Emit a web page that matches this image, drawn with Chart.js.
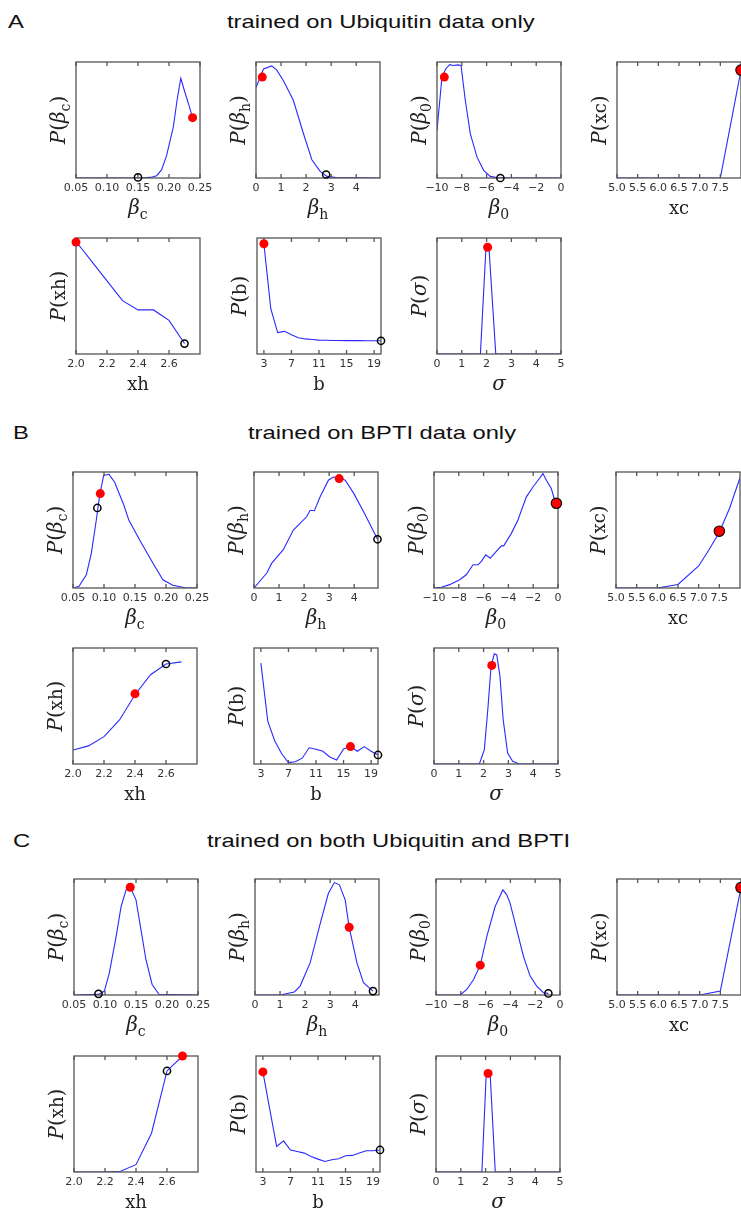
<!DOCTYPE html>
<html>
<head>
<meta charset="utf-8">
<script src="https://cdn.jsdelivr.net/npm/chart.js@4.4.0/dist/chart.umd.min.js"></script>
<style>
  html, body { margin: 0; padding: 0; background: #fff; overflow: hidden; }
  body { position: relative; width: 741px; height: 1209px; }
  .hd { position: absolute; font: 19px "Liberation Sans", Arial, sans-serif; line-height: 19px;
        color: #111; white-space: nowrap; transform-origin: 0 0; transform: scaleX(1.25); }
  canvas { position: absolute; }
</style>
</head>
<body>
<div class="hd" style="left:8px;top:12px">A</div>
<div class="hd" style="left:227px;top:12px">trained on Ubiquitin data only</div>
<div class="hd" style="left:13px;top:423px">B</div>
<div class="hd" style="left:248px;top:423px">trained on BPTI data only</div>
<div class="hd" style="left:13px;top:831px">C</div>
<div class="hd" style="left:207px;top:831px">trained on both Ubiquitin and BPTI</div>

<script>
// parameters, in plot order: beta_c, beta_h, beta_0, xc, xh, b, sigma
const paramSymbols = ['β', 'β', 'β', 'xc', 'xh', 'b', 'σ'];
const paramSubs = ['c', 'h', '0', '', '', '', ''];
const paramMono = [false, false, false, true, true, true, false];
const xMins = [0.05, 0, -10, 5.0, 2.0, 2, 0];
const xMaxs = [0.25, 4.95, 0, 8.0, 2.8, 20, 5];
const tickDecimals = [2, 0, 0, 1, 1, 0, 0];

const bcTicks = [0.05, 0.10, 0.15, 0.20, 0.25];
const bhTicks = [0, 1, 2, 3, 4];
const b0Ticks = [-10, -8, -6, -4, -2, 0];
const xcTicks = [5.0, 5.5, 6.0, 6.5, 7.0, 7.5];
const xhTicks = [2.0, 2.2, 2.4, 2.6];
const bTicks = [3, 7, 11, 15, 19];
const sigTicks = [0, 1, 2, 3, 4, 5];
const allTicks = [bcTicks, bhTicks, b0Ticks, xcTicks, xhTicks, bTicks, sigTicks];

const xhGrid = [2.0, 2.1, 2.2, 2.3, 2.4, 2.5, 2.6, 2.7];
const bGrid = [3, 4, 5, 6, 7, 8, 9, 10, 11, 12, 13, 14, 15, 16, 17, 18, 19, 20];
const xcGrid = [5.0, 5.5, 6.0, 6.5, 7.0, 7.5, 8.0];

// ---- A: trained on Ubiquitin data only ----
const aBcX = [0.05, 0.10, 0.15, 0.17, 0.18, 0.188, 0.196, 0.207, 0.213, 0.219, 0.225, 0.232, 0.238];
const aBcY = [0, 0, 0, 0.005, 0.02, 0.07, 0.19, 0.44, 0.67, 0.86, 0.75, 0.63, 0.52];
const aBhX = [0, 0.3, 0.63, 0.83, 1.09, 1.49, 1.89, 2.23, 2.56, 2.83, 3.2, 4.95];
const aBhY = [0.78, 0.94, 0.966, 0.93, 0.84, 0.67, 0.386, 0.157, 0.057, 0.014, 0.003, 0];
const aB0X = [-10, -9.6, -9.3, -8.98, -8.7, -8.3, -8.06, -7.72, -7.31, -6.77, -6.24, -5.7, -5.2, -4, -2, 0];
const aB0Y = [0.41, 0.87, 0.94, 0.977, 0.97, 0.975, 0.97, 0.67, 0.38, 0.18, 0.066, 0.014, 0.003, 0, 0, 0];
const aXcY = [0, 0, 0, 0, 0, 0, 0.93];
const aXhY = [0.97, 0.80, 0.63, 0.46, 0.38, 0.38, 0.29, 0.09];
const aBY = [0.95, 0.39, 0.185, 0.195, 0.165, 0.14, 0.13, 0.125, 0.12, 0.118, 0.117, 0.116, 0.115, 0.115, 0.115, 0.114, 0.114, 0.114];
const aSigX = [0, 1.6, 1.75, 1.97, 2.04, 2.1, 2.37, 2.5, 5];
const aSigY = [0, 0, 0, 0.9, 0.94, 0.9, 0, 0, 0];
const aRed = [[0.238, 0.52], [0.25, 0.87], [-9.41, 0.87], [8.0, 0.93], [2.0, 0.965], [3, 0.95], [2.04, 0.92]];
const aOpen = [[0.15, 0.005], [2.8, 0.03], [-4.89, 0], null, [2.7, 0.09], [20, 0.114], null];

// ---- B: trained on BPTI data only ----
const bBcX = [0.05, 0.0597, 0.0715, 0.0796, 0.0876, 0.093, 0.0995, 0.108, 0.117, 0.131, 0.140, 0.1575, 0.179, 0.195, 0.211, 0.233, 0.25];
const bBcY = [0, 0.014, 0.114, 0.3, 0.586, 0.8, 0.97, 0.98, 0.914, 0.729, 0.586, 0.414, 0.214, 0.071, 0.023, 0, 0];
const bBhX = [0, 0.51, 0.71, 1.17, 1.57, 2.1, 2.24, 2.41, 2.64, 2.97, 3.17, 3.4, 3.64, 3.97, 4.37, 4.7, 4.93];
const bBhY = [0, 0.129, 0.214, 0.33, 0.5, 0.614, 0.67, 0.666, 0.786, 0.929, 0.957, 0.95, 0.93, 0.82, 0.66, 0.52, 0.42];
const bB0X = [-10, -9.41, -8.74, -7.93, -7.4, -6.85, -6.45, -6.18, -5.83, -5.46, -5.1, -4.57, -4.38, -3.76, -3.23, -2.55, -2.02, -1.61, -1.21, -0.94, -0.54, -0.27, -0.13];
const bB0Y = [0, 0.006, 0.029, 0.071, 0.114, 0.2, 0.2, 0.23, 0.286, 0.257, 0.3, 0.363, 0.363, 0.471, 0.586, 0.786, 0.871, 0.929, 0.986, 0.929, 0.857, 0.757, 0.73];
const bXcX = [5.0, 5.5, 6.0, 6.5, 7.0, 7.25, 7.5, 7.75, 8.0];
const bXcY = [0, 0, 0, 0.03, 0.19, 0.33, 0.48, 0.69, 0.95];
const bXhY = [0.121, 0.156, 0.236, 0.38, 0.597, 0.77, 0.862, 0.88];
const bBY = [0.87, 0.37, 0.2, 0.09, 0.012, 0.02, 0.05, 0.14, 0.127, 0.11, 0.06, 0.035, 0.13, 0.15, 0.11, 0.15, 0.11, 0.078];
const bSigX = [0, 1.83, 2.03, 2.17, 2.3, 2.43, 2.53, 2.66, 2.79, 2.97, 3.17, 3.44, 5];
const bSigY = [0, 0, 0.124, 0.47, 0.84, 0.95, 0.94, 0.756, 0.38, 0.095, 0.023, 0, 0];
const bRed = [[0.094, 0.814], [3.4, 0.943], [-0.13, 0.73], [7.5, 0.49], [2.4, 0.605], [16, 0.15], [2.33, 0.85]];
const bOpen = [[0.0893, 0.69], [4.93, 0.42], null, null, [2.6, 0.862], [20, 0.078], null];

// ---- C: trained on both Ubiquitin and BPTI ----
const cBcX = [0.05, 0.0895, 0.099, 0.107, 0.118, 0.126, 0.134, 0.137, 0.1407, 0.15, 0.158, 0.166, 0.176, 0.187, 0.25];
const cBcY = [0, 0.005, 0.034, 0.19, 0.506, 0.763, 0.906, 0.935, 0.93, 0.82, 0.563, 0.306, 0.091, 0.006, 0];
const cBhX = [0, 1.0, 1.57, 1.8, 2.2, 2.6, 2.93, 3.17, 3.37, 3.6, 3.76, 4.07, 4.33, 4.71];
const cBhY = [0, 0, 0.026, 0.077, 0.277, 0.614, 0.877, 0.969, 0.95, 0.82, 0.583, 0.277, 0.106, 0.034];
const cB0X = [-10, -8.04, -7.5, -6.97, -6.43, -5.9, -5.23, -4.61, -4.29, -4.02, -3.49, -2.95, -2.41, -1.88, -1.34, -0.94];
const cB0Y = [0, 0, 0.05, 0.134, 0.257, 0.506, 0.763, 0.906, 0.863, 0.79, 0.563, 0.334, 0.163, 0.077, 0.02, 0.014];
const cXcY = [0, 0, 0, 0, 0, 0.034, 0.926];
const cXhY = [0, 0, 0, 0.006, 0.063, 0.334, 0.871, 1.0];
const cBY = [0.863, 0.54, 0.22, 0.269, 0.19, 0.177, 0.163, 0.134, 0.111, 0.091, 0.106, 0.114, 0.14, 0.143, 0.163, 0.183, 0.183, 0.19];
const cSigX = [0, 1.85, 2.02, 2.08, 2.12, 2.19, 2.39, 5];
const cSigY = [0, 0, 0.82, 0.85, 0.85, 0.82, 0, 0];
const cRed = [[0.1407, 0.929], [3.76, 0.583], [-6.43, 0.257], [8.0, 0.926], [2.7, 1.0], [3, 0.863], [2.1, 0.85]];
const cOpen = [[0.0895, 0.01], [4.71, 0.034], [-0.94, 0.014], null, [2.6, 0.871], [20, 0.19], null];

// red markers with a black edge (param index per panel)
const redEdged = { A: [3], B: [2, 3], C: [3] };

const panels = [
  { name: 'A', xs: [aBcX, aBhX, aB0X, xcGrid, xhGrid, bGrid, aSigX], ys: [aBcY, aBhY, aB0Y, aXcY, aXhY, aBY, aSigY], red: aRed, open: aOpen,
    tops: [62, 238], lefts: [[76, 256, 437, 617], [76, 257, 437]] },
  { name: 'B', xs: [bBcX, bBhX, bB0X, bXcX, xhGrid, bGrid, bSigX], ys: [bBcY, bBhY, bB0Y, bXcY, bXhY, bBY, bSigY], red: bRed, open: bOpen,
    tops: [472, 648], lefts: [[73, 254, 434, 616], [73, 254, 434]] },
  { name: 'C', xs: [cBcX, cBhX, cB0X, xcGrid, xhGrid, bGrid, cSigX], ys: [cBcY, cBhY, cB0Y, cXcY, cXhY, cBY, cSigY], red: cRed, open: cOpen,
    tops: [879, 1056], lefts: [[74, 255, 436, 617], [74, 256, 436]] }
];

const BOX_W = 124, BOX_H = 116, PAD_L = 70, PAD_R = 20, PAD_T = 12, AX_H = 48;

const SYM = 'italic 20px "DejaVu Serif"';
const SUB = '14px "DejaVu Serif"';
const UP = '20px "DejaVu Serif"';
const TT = '18px "DejaVu Serif"';

function symParts(i) {
  if (paramMono[i]) return [{ t: paramSymbols[i], f: TT }];
  const p = [{ t: paramSymbols[i], f: SYM }];
  if (paramSubs[i]) p.push({ t: paramSubs[i], f: SUB, dy: 5 });
  return p;
}

function drawParts(ctx, parts, x, y) {
  let w = 0;
  parts.forEach(p => { ctx.font = p.f; p.w = ctx.measureText(p.t).width; w += p.w; });
  let cx = x - w / 2;
  parts.forEach(p => { ctx.font = p.f; ctx.fillText(p.t, cx, y + (p.dy || 0)); cx += p.w; });
}

function fmt(v, d) {
  const s = Math.abs(v).toFixed(d);
  return v < 0 ? '\u2212' + s : s;
}

const framePlugin = {
  id: 'frame',
  afterDatasetDraw(chart, args) {
    if (args.index !== 2) return;
    const { ctx, chartArea: a, scales: { x } } = chart;
    ctx.save();
    ctx.strokeStyle = '#555';
    ctx.lineWidth = 1.3;
    ctx.strokeRect(a.left, a.top, a.right - a.left, a.bottom - a.top);
    ctx.beginPath();
    x.ticks.forEach(t => {
      const px = x.getPixelForValue(t.value);
      ctx.moveTo(px, a.bottom); ctx.lineTo(px, a.bottom - 4);
      ctx.moveTo(px, a.top); ctx.lineTo(px, a.top + 4);
    });
    ctx.stroke();
    ctx.restore();
  },
  afterDraw(chart, args, opts) {
    const { ctx, chartArea: a } = chart;
    ctx.save();
    ctx.fillStyle = '#222';
    ctx.textBaseline = 'alphabetic';
    drawParts(ctx, symParts(opts.param), (a.left + a.right) / 2, a.bottom + 36);
    ctx.translate(a.left - 16 + 5, (a.top + a.bottom) / 2);
    ctx.rotate(-Math.PI / 2);
    const yl = [{ t: 'P', f: SYM }, { t: '(', f: UP }].concat(symParts(opts.param), [{ t: ')', f: UP }]);
    drawParts(ctx, yl, 0, 0);
    ctx.restore();
  }
};

function pts(xs, ys) { return xs.map((v, i) => ({ x: v, y: ys[i] })); }

panels.forEach(pn => {
  for (let i = 0; i < 7; i++) {
    const row = i < 4 ? 0 : 1;
    const col = i < 4 ? i : i - 4;
    const left = pn.lefts[row][col], top = pn.tops[row];
    const cv = document.createElement('canvas');
    cv.width = BOX_W + PAD_L + PAD_R;
    cv.height = BOX_H + PAD_T + AX_H;
    cv.style.left = (left - PAD_L) + 'px';
    cv.style.top = (top - PAD_T) + 'px';
    document.body.appendChild(cv);

    const edged = redEdged[pn.name].includes(i);
    const red = pn.red[i], open = pn.open[i];
    new Chart(cv, {
      type: 'scatter',
      data: {
        datasets: [
          { data: red ? [{ x: red[0], y: red[1] }] : [], pointRadius: edged ? 5.2 : 4.5,
            pointBackgroundColor: '#ff0000', pointBorderColor: edged ? '#000' : '#ff0000',
            pointBorderWidth: edged ? 1.1 : 0, clip: false },
          { data: open ? [{ x: open[0], y: open[1] }] : [], pointRadius: 3.6,
            pointBackgroundColor: 'rgba(0,0,0,0)', pointBorderColor: '#000', pointBorderWidth: 1.5, clip: false },
          { data: pts(pn.xs[i], pn.ys[i]), showLine: true, pointRadius: 0,
            borderColor: '#2a2aff', borderWidth: 1.1, tension: 0 }
        ]
      },
      options: {
        responsive: false,
        animation: false,
        events: [],
        layout: { padding: { left: PAD_L, right: PAD_R, top: PAD_T, bottom: 0 } },
        plugins: { legend: { display: false }, tooltip: { enabled: false }, frame: { param: i } },
        scales: {
          x: {
            type: 'linear', min: xMins[i], max: xMaxs[i],
            afterBuildTicks: s => { s.ticks = allTicks[i].map(v => ({ value: v })); },
            afterFit: s => { s.height = AX_H; },
            grid: { display: false, drawTicks: false },
            border: { display: false },
            ticks: { autoSkip: false, maxRotation: 0, padding: 4, color: '#333',
                     font: { family: 'DejaVu Sans', size: 11 },
                     callback: v => fmt(v, tickDecimals[i]) }
          },
          y: { display: false, min: 0, max: 1 }
        }
      },
      plugins: [framePlugin]
    });
  }
});
</script>
</body>
</html>
